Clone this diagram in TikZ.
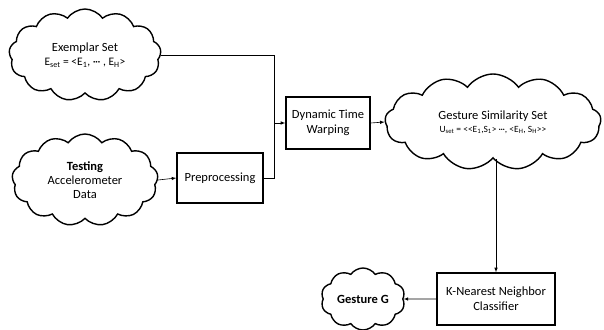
\documentclass[tikz,border=0pt]{standalone}
\usepackage{fontspec}
\setmainfont{Carlito}
\usetikzlibrary{shapes.symbols, arrows.meta}

\newcommand{\tridots}{\textperiodcentered\kern-0.5pt\textperiodcentered\kern-0.5pt\textperiodcentered}

\begin{document}
\begin{tikzpicture}[x=1pt,y=1pt,>=latex,
  puff/.style={draw, line width=1.4pt, cloud, cloud puffs=13, cloud puff arc=110,
    cloud ignores aspect, inner sep=0pt, align=center, font=\fontsize{12.5}{15}\selectfont},
  blockbox/.style={draw, line width=1.4pt, align=center, inner sep=0pt,
    font=\fontsize{12.5}{15}\selectfont},
  link/.style={line width=0.6pt}]
\useasboundingbox (0,0) rectangle (604,329);

\node[puff, minimum width=152, minimum height=92] (ex) at (85,274)
  {Exemplar Set\\[-1pt] {\fontsize{11.5}{13}\selectfont E\textsubscript{set} = <E\textsubscript{1}, \tridots{} , E\textsubscript{H}>}};
\node[puff, minimum width=146, minimum height=92] (test) at (85,149)
  {\textbf{Testing}\\[-1pt] Accelerometer\\[-1pt] Data};
\node[blockbox, minimum width=86, minimum height=50] (prep) at (220,151) {Preprocessing};
\node[blockbox, minimum width=84, minimum height=52] (dtw) at (328,206) {Dynamic Time\\ Warping};
\node[puff, minimum width=216, minimum height=96] (sim) at (493,207)
  {Gesture Similarity Set\\[-2pt] {\fontsize{9.5}{11}\selectfont U\textsubscript{set} = <\kern0pt<E\textsubscript{1},S\textsubscript{1}> \tridots, <E\textsubscript{H}, S\textsubscript{H}>\kern0pt>}};
\node[blockbox, minimum width=118, minimum height=52] (knn) at (496,30) {K-Nearest Neighbor\\ Classifier};
\node[puff, cloud puffs=10, minimum width=84, minimum height=62] (ges) at (363,30) {\textbf{Gesture G}};

\coordinate (jn) at (274,206);

\draw[link] (ex.east) -| (jn);
\draw[link] (prep.east) -| (jn);
\draw[link,->] (jn) -- (dtw.west);
\draw[link,->] (test.east) -- (prep.west);
\draw[link,->] (dtw.east) -- (sim.west);
\draw[link,->] (sim.south -| knn.north) -- (knn.north);
\draw[link,->] (knn.west) -- (ges.east);
\end{tikzpicture}
\end{document}
